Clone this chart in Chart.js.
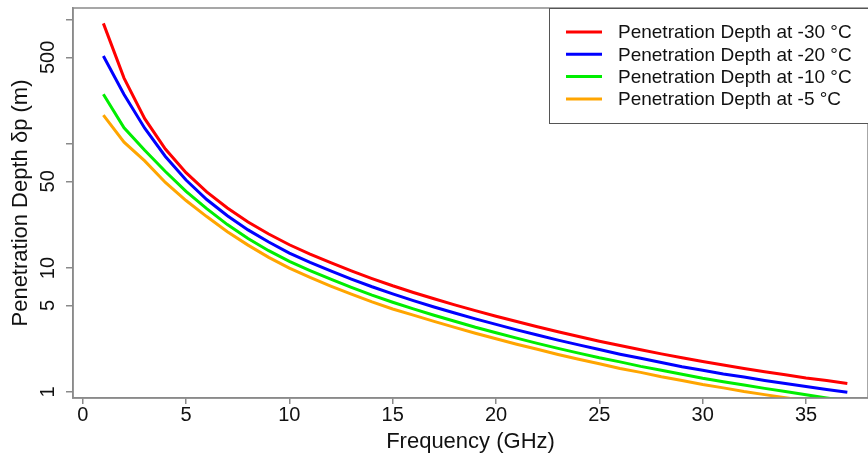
<!DOCTYPE html>
<html>
<head>
<meta charset="utf-8">
<script src="https://cdn.jsdelivr.net/npm/chart.js@4.4.1/dist/chart.umd.min.js"></script>
<style>
  html, body { margin: 0; padding: 0; background: #fff; }
  #wrap { width: 868px; height: 459px; }
</style>
</head>
<body>
<div id="wrap"><canvas id="depthChart" width="868" height="459"></canvas></div>
<script>
// Frequencies in GHz
const freqs = [1, 2, 3, 4, 5, 6, 7, 8, 9, 10, 11, 12, 13, 14, 15, 16, 17, 18, 19, 20,
  21, 22, 23, 24, 25, 26, 27, 28, 29, 30, 31, 32, 33, 34, 35, 36, 37];

// Penetration depth (m)
const depthM30 = [940, 340, 160, 91, 58.7, 41.1, 30.5, 23.5, 18.8, 15.4, 12.97, 11.04, 9.48, 8.22, 7.19, 6.35, 5.65, 5.05, 4.53, 4.08,
  3.70, 3.36, 3.06, 2.80, 2.57, 2.37, 2.19, 2.03, 1.89, 1.76, 1.65, 1.55, 1.46, 1.38, 1.30, 1.24, 1.17];
const depthM20 = [513, 251, 134, 79.3, 51.2, 35.7, 26.4, 20.3, 16.2, 13.2, 11.1, 9.48, 8.15, 7.06, 6.18, 5.46, 4.85, 4.34, 3.89, 3.51,
  3.17, 2.88, 2.62, 2.40, 2.20, 2.02, 1.87, 1.73, 1.60, 1.50, 1.40, 1.32, 1.24, 1.17, 1.11, 1.05, 0.995];
const depthM10 = [252, 135, 89, 60, 41.5, 30.1, 22.4, 17.3, 13.8, 11.3, 9.55, 8.13, 6.98, 6.05, 5.30, 4.68, 4.16, 3.72, 3.33, 3.01,
  2.72, 2.47, 2.25, 2.06, 1.89, 1.75, 1.61, 1.50, 1.39, 1.29, 1.21, 1.14, 1.07, 1.01, 0.95, 0.895, 0.85];
const depthM5 = [171, 103.5, 73.1, 49, 35, 26, 19.6, 15.3, 12.2, 9.98, 8.41, 7.16, 6.15, 5.33, 4.67, 4.17, 3.71, 3.32, 2.98, 2.69,
  2.43, 2.21, 2.01, 1.84, 1.69, 1.55, 1.44, 1.33, 1.24, 1.15, 1.08, 1.01, 0.953, 0.90, 0.85, 0.805, 0.765];

const seriesLabels = ['Penetration Depth at -30 °C', 'Penetration Depth at -20 °C',
  'Penetration Depth at -10 °C', 'Penetration Depth at -5 °C'];
const seriesColors = ['#ff0000', '#0000ff', '#00ee00', '#ffa500'];

// Axis ticks
const xTicks = [0, 5, 10, 15, 20, 25, 30, 35];
const yTicks = [1, 5, 10, 50, 100, 500, 1000];
const yTickLabels = [1, 5, 10, 50, 500];

Chart.defaults.font.family = "'Liberation Sans', Arial, sans-serif";

const allSeries = [depthM30, depthM20, depthM10, depthM5];
const datasets = allSeries.map((vals, i) => ({
  label: seriesLabels[i],
  data: freqs.map((f, j) => ({ x: f, y: vals[j] })),
  borderColor: seriesColors[i],
  backgroundColor: seriesColors[i],
  borderWidth: 3,
  pointRadius: 0,
  tension: 0,
  clip: 0
}));

// box round the plot + R style legend in the top right corner
const framePlugin = {
  id: 'frame',
  afterDraw(chart) {
    const { ctx, chartArea: a } = chart;
    ctx.save();
    ctx.strokeStyle = '#8a8a8a';
    ctx.lineWidth = 1.5;
    ctx.strokeRect(a.left, a.top, a.right - a.left, a.bottom - a.top);

    const bx = a.right - 319, by = a.top, bw = 330, bh = 115;
    ctx.fillStyle = '#fff';
    ctx.fillRect(bx, by, bw, bh);
    ctx.strokeStyle = '#555';
    ctx.lineWidth = 1;
    ctx.strokeRect(bx + 0.5, by + 0.5, bw, bh);

    ctx.font = "19px 'Liberation Sans', Arial, sans-serif";
    ctx.textBaseline = 'middle';
    ctx.textAlign = 'left';
    chart.data.datasets.forEach((ds, i) => {
      const y = by + 24 + i * 22.3;
      ctx.strokeStyle = ds.borderColor;
      ctx.lineWidth = 3;
      ctx.beginPath();
      ctx.moveTo(bx + 17, y);
      ctx.lineTo(bx + 53, y);
      ctx.stroke();
      ctx.fillStyle = '#111';
      ctx.fillText(ds.label, bx + 69, y + 1);
    });
    ctx.restore();
  }
};

const ctx = document.getElementById('depthChart').getContext('2d');
const depthChart = new Chart(ctx, {
  type: 'line',
  data: { datasets: datasets },
  options: {
    responsive: false,
    devicePixelRatio: 1,
    animation: false,
    layout: { padding: { top: 8, right: 0, left: 0, bottom: 0 } },
    plugins: {
      legend: { display: false },
      tooltip: { enabled: false }
    },
    scales: {
      x: {
        type: 'linear',
        min: -0.47,
        max: 38,
        afterBuildTicks: s => { s.ticks = xTicks.map(v => ({ value: v })); },
        afterFit: s => { s.height = 61; s.paddingLeft = 0; s.paddingRight = 0; },
        ticks: { color: '#111', font: { size: 20, lineHeight: 1 }, padding: 1, maxRotation: 0, autoSkip: false },
        grid: { drawOnChartArea: false, tickLength: 6, color: '#8a8a8a', lineWidth: 1.5 },
        border: { display: true, color: '#8a8a8a', width: 1.5 },
        title: {
          display: true, text: 'Frequency (GHz)', color: '#111',
          font: { size: 22 }, padding: { top: 0, bottom: 4 }
        }
      },
      y: {
        type: 'logarithmic',
        min: 0.895,
        max: 1250,
        afterBuildTicks: s => { s.ticks = yTicks.map(v => ({ value: v })); },
        afterFit: s => { s.width = 73; s.paddingTop = 0; s.paddingBottom = 0; },
        ticks: {
          callback: v => yTickLabels.includes(v) ? String(v) : '',
          color: '#111', font: { size: 20, lineHeight: 1 },
          minRotation: 90, maxRotation: 90, crossAlign: 'center', padding: 1, autoSkip: false
        },
        grid: { drawOnChartArea: false, tickLength: 7, color: '#8a8a8a', lineWidth: 1.5 },
        border: { display: true, color: '#8a8a8a', width: 1.5 },
        title: {
          display: true, text: 'Penetration Depth δp (m)', color: '#111',
          font: { size: 22 }, padding: { top: 8, bottom: 0 }
        }
      }
    }
  },
  plugins: [framePlugin]
});
</script>
</body>
</html>
